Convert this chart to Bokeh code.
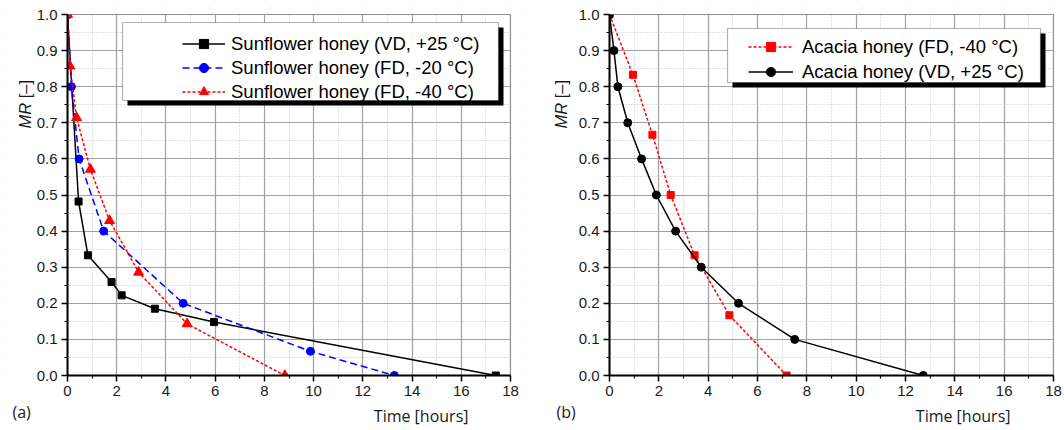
import math
from bokeh.plotting import figure
from bokeh.layouts import row
from bokeh.models import (Range1d, FixedTicker, PrintfTickFormatter, Label,
                          BoxAnnotation, Legend, LegendItem)
from bokeh.embed import file_html
from bokeh.resources import INLINE

# ---------------- data ----------------
x_ticks = [0, 2, 4, 6, 8, 10, 12, 14, 16, 18]
x_minor = [1, 3, 5, 7, 9, 11, 13, 15, 17]
y_ticks = [0.0, 0.1, 0.2, 0.3, 0.4, 0.5, 0.6, 0.7, 0.8, 0.9, 1.0]
y_minor = [0.05, 0.15, 0.25, 0.35, 0.45, 0.55, 0.65, 0.75, 0.85, 0.95]

sf_vd_t = [0.0, 0.45, 0.83, 1.79, 2.2, 3.55, 5.95, 17.4]
sf_vd_mr = [1.0, 0.482, 0.333, 0.259, 0.222, 0.185, 0.148, 0.0]
sf_fd20_t = [0.0, 0.16, 0.47, 1.47, 4.7, 9.87, 13.28]
sf_fd20_mr = [1.0, 0.8, 0.6, 0.4, 0.2, 0.067, 0.0]
sf_fd40_t = [0.0, 0.1, 0.37, 0.93, 1.71, 2.89, 4.86, 8.83]
sf_fd40_mr = [1.0, 0.857, 0.714, 0.571, 0.429, 0.286, 0.143, 0.0]

ac_fd40_t = [0.0, 0.95, 1.74, 2.48, 3.45, 4.86, 7.18]
ac_fd40_mr = [1.0, 0.833, 0.667, 0.5, 0.333, 0.167, 0.0]
ac_vd_t = [0.0, 0.18, 0.34, 0.74, 1.3, 1.9, 2.68, 3.72, 5.23, 7.51, 12.72]
ac_vd_mr = [1.0, 0.9, 0.8, 0.7, 0.6, 0.5, 0.4, 0.3, 0.2, 0.1, 0.0]

labels_left = ["Sunflower honey (VD, +25 °C)", "Sunflower honey (FD, -20 °C)",
               "Sunflower honey (FD, -40 °C)"]
labels_right = ["Acacia honey (FD, -40 °C)", "Acacia honey (VD, +25 °C)"]

TICK_FONT = "Liberation Sans"
TITLE_FONT = "Open Sans"

H = 429            # figure height (px)
Y1_PX, Y0_PX = 14, 375   # pixel rows of MR=1 and MR=0
X_MAX = 18


class Panel:
    """Figure whose frame fills the canvas; axes sit at data 0 (fixed_location)."""

    def __init__(self, width, x0_px, x18_px):
        self.w = width
        self.x0 = x0_px
        self.sx = (x18_px - x0_px) / X_MAX
        self.sy = (Y0_PX - Y1_PX) / 1.0
        xr = Range1d(-x0_px / self.sx, X_MAX + (width - x18_px) / self.sx)
        yr = Range1d(-(H - Y0_PX) / self.sy, 1.0 + Y1_PX / self.sy)
        p = figure(width=width, height=H, x_range=xr, y_range=yr,
                   output_backend="svg", toolbar_location=None,
                   min_border=0, min_border_left=0, min_border_right=0,
                   min_border_top=0, min_border_bottom=0)
        p.outline_line_color = None
        p.background_fill_color = "white"
        p.border_fill_color = "white"
        p.xaxis.ticker = FixedTicker(ticks=x_ticks, minor_ticks=x_minor)
        p.yaxis.ticker = FixedTicker(ticks=y_ticks, minor_ticks=y_minor)
        p.yaxis.formatter = PrintfTickFormatter(format="%.1f")
        p.xaxis.fixed_location = 0
        p.yaxis.fixed_location = 0
        p.xaxis.bounds = (0, X_MAX)
        p.yaxis.bounds = (0, 1)
        for ax in (p.xaxis[0], p.yaxis[0]):
            ax.axis_line_color = "black"
            ax.axis_line_width = 2
            ax.major_tick_line_color = "black"
            ax.major_tick_line_width = 1.5
            ax.minor_tick_line_color = "black"
            ax.minor_tick_line_width = 1.2
            ax.major_tick_out = 6
            ax.major_tick_in = 0
            ax.minor_tick_out = 3
            ax.minor_tick_in = 0
            ax.major_label_standoff = 4
            ax.major_label_text_font = TICK_FONT
            ax.major_label_text_font_size = "15px"
            ax.major_label_text_color = "#1a1a1a"
        for g in (p.xgrid[0], p.ygrid[0]):
            g.grid_line_color = "#a0a0a0"
            g.grid_line_width = 1.2
            g.minor_grid_line_color = "#c4c4c4"
            g.minor_grid_line_dash = "1 2"
            g.minor_grid_line_width = 1
        self.p = p

    def finish_frame(self):
        """White masks outside the data box (clip marks and grid), then the box border."""
        p = self.p
        for kw in (dict(right=0), dict(left=X_MAX), dict(top=0), dict(bottom=1)):
            p.add_layout(BoxAnnotation(fill_color="white", fill_alpha=1,
                                       line_color=None, level="glyph", **kw))
        p.add_layout(BoxAnnotation(left=0, right=X_MAX, bottom=0, top=1,
                                   fill_alpha=0, line_color="black",
                                   line_width=1.2, level="glyph"))

    def dx(self, px):
        return (px - self.x0) / self.sx

    def dy(self, py):
        return (Y0_PX - py) / self.sy

    def legend_box(self, l, t, r, b, shadow=5):
        p = self.p
        p.add_layout(BoxAnnotation(left=self.dx(l + shadow), right=self.dx(r + shadow),
                                   top=self.dy(t + shadow), bottom=self.dy(b + shadow),
                                   fill_color="black", fill_alpha=1, line_color=None))
        p.add_layout(BoxAnnotation(left=self.dx(l), right=self.dx(r), top=self.dy(t),
                                   bottom=self.dy(b), fill_color="white", fill_alpha=1,
                                   line_color="black", line_width=1.2))

    def titles(self, panel_text, panel_px, mr_px):
        p = self.p
        fs = 16.5
        mr_w = 1.555 * fs / self.sy
        gap = 0.278 * fs / self.sy
        p.add_layout(Label(x=self.dx(mr_px), y=self.dy(128), text="MR", angle=math.pi / 2,
                           text_font=TICK_FONT, text_font_style="italic",
                           text_font_size=f"{fs}px", text_align="left",
                           text_baseline="middle", text_color="#1a1a1a"))
        p.add_layout(Label(x=self.dx(mr_px), y=self.dy(128) + mr_w + gap,
                           text="[–]", angle=math.pi / 2,
                           text_font=TICK_FONT, text_font_size=f"{fs}px",
                           text_align="left", text_baseline="middle",
                           text_color="#1a1a1a"))
        p.add_layout(Label(x=self.dx(self.x0 + 401), y=self.dy(415), text="Time [hours]",
                           text_align="right", text_baseline="middle",
                           text_font=TITLE_FONT, text_font_size="16px",
                           text_color="#1a1a1a"))
        p.add_layout(Label(x=self.dx(panel_px), y=self.dy(411), text=panel_text,
                           text_align="left", text_baseline="middle",
                           text_font=TITLE_FONT, text_font_size="16px",
                           text_color="#1a1a1a"))


# ---------------- left panel ----------------
A = Panel(520, 67, 510)
p1 = A.p
l1 = p1.line(sf_vd_t, sf_vd_mr, color="black", line_width=1.5)
m1 = p1.scatter(sf_vd_t, sf_vd_mr, marker="square", size=7, color="black")
l2 = p1.line(sf_fd20_t, sf_fd20_mr, color="#0000ff", line_width=1.5, line_dash="7 4")
m2 = p1.scatter(sf_fd20_t, sf_fd20_mr, marker="circle", size=8, color="#0000ff")
l3 = p1.line(sf_fd40_t, sf_fd40_mr, color="#ff0000", line_width=1.5, line_dash="3 2")
m3 = p1.scatter(sf_fd40_t, sf_fd40_mr, marker="triangle", size=10, color="#ff0000")
A.finish_frame()

A.legend_box(122, 22, 498, 100)
leg1 = Legend(items=[LegendItem(label=labels_left[0], renderers=[l1, m1]),
                     LegendItem(label=labels_left[1], renderers=[l2, m2]),
                     LegendItem(label=labels_left[2], renderers=[l3, m3])],
              location=(182, H - 103), glyph_width=43, glyph_height=23,
              label_height=23, label_standoff=6, spacing=1, padding=0, margin=0,
              border_line_color=None, background_fill_alpha=0,
              label_text_font=TICK_FONT, label_text_font_size="18.5px",
              label_text_color="black")
p1.add_layout(leg1)
A.titles("(a)", 12, 24)

# ---------------- right panel ----------------
B = Panel(543, 89, 533)
p2 = B.p
r1 = p2.line(ac_fd40_t, ac_fd40_mr, color="#ff0000", line_width=1.5, line_dash="3 2")
s1 = p2.scatter(ac_fd40_t, ac_fd40_mr, marker="square", size=7, color="#ff0000")
r2 = p2.line(ac_vd_t, ac_vd_mr, color="black", line_width=1.5)
s2 = p2.scatter(ac_vd_t, ac_vd_mr, marker="circle", size=8, color="black")
B.finish_frame()

B.legend_box(727 - 520, 28, 1040 - 520, 82)
leg2 = Legend(items=[LegendItem(label=labels_right[0], renderers=[r1, s1]),
                     LegendItem(label=labels_right[1], renderers=[r2, s2])],
              location=(748 - 520, H - 83), glyph_width=45, glyph_height=23,
              label_height=23, label_standoff=9, spacing=2, padding=0, margin=0,
              border_line_color=None, background_fill_alpha=0,
              label_text_font=TICK_FONT, label_text_font_size="18.5px",
              label_text_color="black")
p2.add_layout(leg2)
B.titles("(b)", 556 - 520, 560 - 520)

layout = row(p1, p2)
open("out.html", "w").write(file_html(layout, INLINE))
